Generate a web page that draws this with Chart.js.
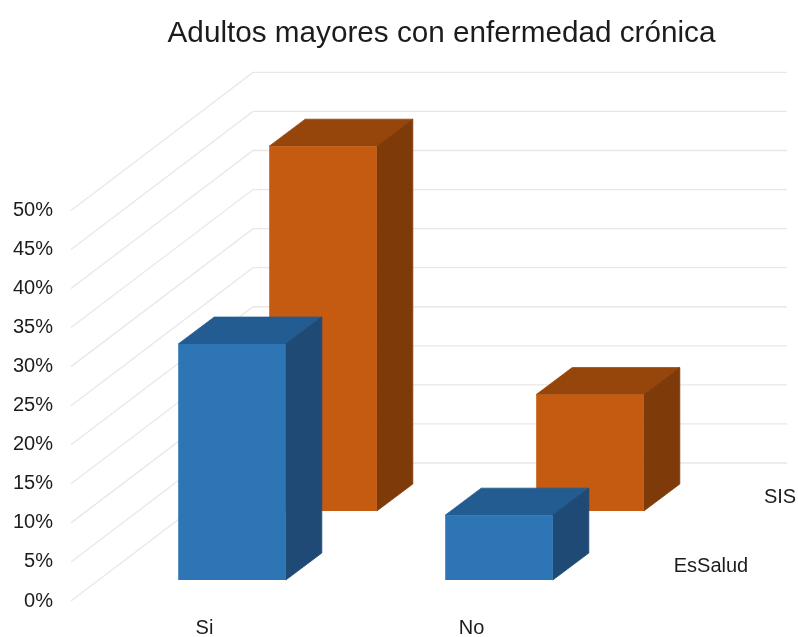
<!DOCTYPE html>
<html>
<head>
<meta charset="utf-8">
<title>Adultos mayores con enfermedad crónica</title>
<script src="https://cdn.jsdelivr.net/npm/chart.js@4"></script>
<style>
  html, body { margin: 0; padding: 0; background: #fff; }
  canvas { display: block; }
</style>
</head>
<body>
<canvas id="chart" width="798" height="637"></canvas>
<script>
const chartTitle = 'Adultos mayores con enfermedad crónica';
const categories = ['Si', 'No'];
const seriesNames = ['EsSalud', 'SIS'];
const esSaludValues = [30.2, 8.3];
const sisValues = [46.7, 14.9];
const maxPercent = 50;
const tickStep = 5;

const fontFamily = '"Liberation Sans", Arial, sans-serif';
const textColor = '#1c1c1c';
const gridColor = '#e8e8e8';

// fake 3D: how far each series sits behind the front plane, and the bar depth
const wallDepth = { x: 182, y: -138 };
const barDepth = { x: 36, y: -27 };
const rowStyles = [
    { dx: 27.5, dy: -21, front: '#2e75b6', top: '#235c91', side: '#1e4a75', labelX: 711, labelY: 566 },
    { dx: 118.5, dy: -90, front: '#c55a11', top: '#96460b', side: '#7f3a0a', labelX: 780, labelY: 497 }
];

function fillFace(ctx, points, color) {
    ctx.fillStyle = color;
    ctx.strokeStyle = color;
    ctx.lineWidth = 0.8;
    ctx.beginPath();
    points.forEach((p, i) => i ? ctx.lineTo(p[0], p[1]) : ctx.moveTo(p[0], p[1]));
    ctx.closePath();
    ctx.fill();
    ctx.stroke();
}

const fake3d = {
    id: 'fake3d',
    afterLayout(chart) {
        // title sits over the plot, not the canvas centre
        chart.titleBlock.left += 139;
        chart.titleBlock.right += 139;
    },
    beforeDatasetsDraw(chart) {
        const { ctx, chartArea, scales: { y } } = chart;
        ctx.save();
        ctx.strokeStyle = gridColor;
        ctx.lineWidth = 1.3;
        y.ticks.forEach(tick => {
            const py = y.getPixelForValue(tick.value);
            const backX = chartArea.left + wallDepth.x;
            const backY = py + wallDepth.y;
            ctx.beginPath();
            ctx.moveTo(chartArea.left, py);
            ctx.lineTo(backX, backY);
            ctx.lineTo(chartArea.right + wallDepth.x, backY);
            ctx.stroke();
        });
        ctx.restore();
    },
    beforeDatasetDraw(chart, args) {
        const { ctx } = chart;
        const row = rowStyles[args.index];
        ctx.save();
        ctx.translate(row.dx, row.dy);
        args.meta.data.forEach(bar => {
            const left = bar.x - bar.width / 2;
            const right = bar.x + bar.width / 2;
            fillFace(ctx, [[left, bar.y], [right, bar.y],
                [right + barDepth.x, bar.y + barDepth.y], [left + barDepth.x, bar.y + barDepth.y]], row.top);
            fillFace(ctx, [[right, bar.y], [right + barDepth.x, bar.y + barDepth.y],
                [right + barDepth.x, bar.base + barDepth.y], [right, bar.base]], row.side);
        });
    },
    afterDatasetDraw(chart) {
        chart.ctx.restore();
    },
    afterDraw(chart) {
        // series names along the depth axis
        const { ctx } = chart;
        ctx.save();
        ctx.font = '20px ' + fontFamily;
        ctx.fillStyle = textColor;
        ctx.textAlign = 'center';
        ctx.textBaseline = 'middle';
        seriesNames.forEach((name, i) => ctx.fillText(name, rowStyles[i].labelX, rowStyles[i].labelY));
        ctx.restore();
    }
};

new Chart(document.getElementById('chart'), {
    type: 'bar',
    data: {
        labels: categories,
        datasets: [
            { label: seriesNames[0], data: esSaludValues, backgroundColor: rowStyles[0].front },
            { label: seriesNames[1], data: sisValues, backgroundColor: rowStyles[1].front }
        ]
    },
    options: {
        responsive: false,
        animation: false,
        grouped: false,
        categoryPercentage: 0.403,
        barPercentage: 1,
        layout: { padding: { right: 193, top: 0, left: 0, bottom: 0 } },
        plugins: {
            legend: { display: false },
            tooltip: { enabled: false },
            title: {
                display: true,
                text: chartTitle,
                color: textColor,
                font: { family: fontFamily, size: 29.7, weight: 'normal' },
                padding: { top: 15.5, bottom: 159.26 }
            }
        },
        scales: {
            x: {
                grid: { display: false, drawTicks: false },
                border: { display: false },
                afterFit: s => { s.height = 36; },
                ticks: { color: textColor, font: { family: fontFamily, size: 20 }, padding: 15 }
            },
            y: {
                min: 0,
                max: maxPercent,
                grid: { display: false, drawTicks: false },
                border: { display: false },
                afterFit: s => { s.width = 71; },
                ticks: {
                    stepSize: tickStep,
                    color: textColor,
                    font: { family: fontFamily, size: 20 },
                    padding: 18,
                    callback: v => v + '%'
                }
            }
        }
    },
    plugins: [fake3d]
});
</script>
</body>
</html>
